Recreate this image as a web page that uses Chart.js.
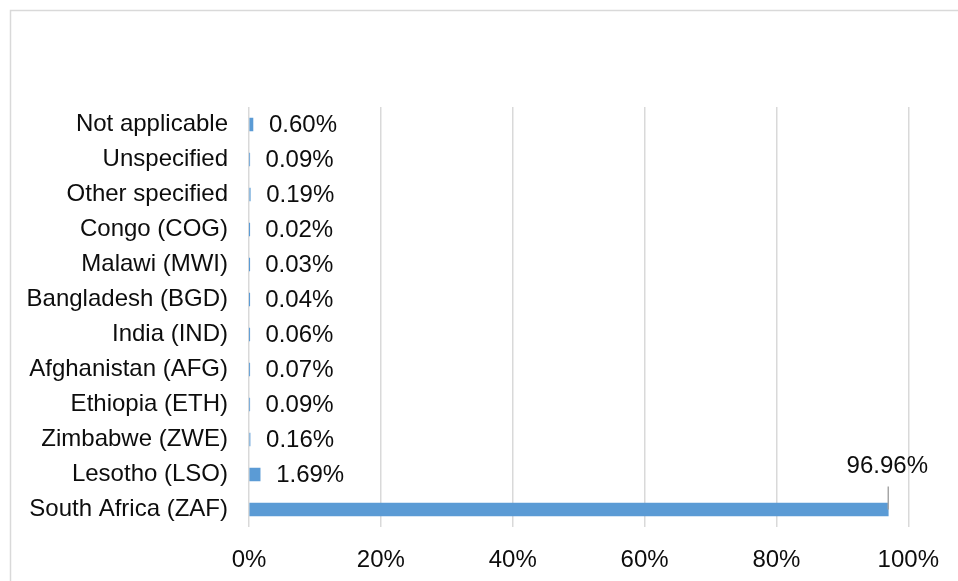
<!DOCTYPE html>
<html lang="en">
  <head>
    <meta charset="UTF-8" />
    <title>Country of birth</title>
    <script src="https://cdn.jsdelivr.net/npm/chart.js"></script>
    <style>
      html,
      body {
        margin: 0;
        background: #fff;
        font-family: "Liberation Sans", Arial, sans-serif;
      }
      #wrap {
        width: 958px;
        height: 581px;
        position: relative;
      }
    </style>
  </head>
  <body>
    <div id="wrap"><canvas id="chart"></canvas></div>
  </body>
  <script>
    const countries = [
      "Not applicable",
      "Unspecified",
      "Other specified",
      "Congo (COG)",
      "Malawi (MWI)",
      "Bangladesh (BGD)",
      "India (IND)",
      "Afghanistan (AFG)",
      "Ethiopia (ETH)",
      "Zimbabwe (ZWE)",
      "Lesotho (LSO)",
      "South Africa (ZAF)",
    ];
    const shares = [0.6, 0.09, 0.19, 0.02, 0.03, 0.04, 0.06, 0.07, 0.09, 0.16, 1.69, 96.96];
    const xTicks = [0, 20, 40, 60, 80, 100];

    const FONT = { family: "'Liberation Sans', Arial, sans-serif", size: 24 };
    const TEXT = "#0d0d0d";
    const GRID = "#d9d9d9";

    // outer frame, only top and left edges fall inside the canvas
    const framePlugin = {
      id: "frame",
      beforeDraw(chart) {
        const ctx = chart.ctx;
        ctx.save();
        ctx.strokeStyle = GRID;
        ctx.lineWidth = 1.5;
        ctx.strokeRect(10.5, 10.5, 2000, 2000);
        ctx.restore();
      },
    };

    // value labels to the right of each bar; the long bar gets a callout above it
    const valueLabels = {
      id: "valueLabels",
      afterDatasetsDraw(chart) {
        const ctx = chart.ctx;
        const meta = chart.getDatasetMeta(0);
        ctx.save();
        ctx.font = `${FONT.size}px ${FONT.family}`;
        ctx.fillStyle = TEXT;
        meta.data.forEach((bar, i) => {
          const txt = shares[i].toFixed(2) + "%";
          if (shares[i] > 50) {
            ctx.strokeStyle = "#a6a6a6";
            ctx.lineWidth = 1.5;
            ctx.beginPath();
            ctx.moveTo(bar.x, bar.y - 23);
            ctx.lineTo(bar.x, bar.y);
            ctx.stroke();
            ctx.textAlign = "center";
            ctx.textBaseline = "middle";
            ctx.fillText(txt, bar.x - 1, bar.y - 43);
          } else {
            ctx.textAlign = "left";
            ctx.textBaseline = "middle";
            ctx.fillText(txt, bar.x + 16, bar.y + 1);
          }
        });
        ctx.restore();
      },
    };

    new Chart(document.getElementById("chart"), {
      type: "bar",
      data: {
        labels: countries,
        datasets: [
          {
            data: shares,
            backgroundColor: "#5b9bd5",
            barThickness: 13,
          },
        ],
      },
      options: {
        indexAxis: "y",
        responsive: true,
        maintainAspectRatio: false,
        animation: false,
        layout: { padding: { top: 107, right: 48, bottom: 0, left: 0 } },
        plugins: { legend: { display: false }, tooltip: { enabled: false } },
        scales: {
          x: {
            min: 0,
            max: 100,
            afterFit: (s) => {
              s.height = 54;
            },
            afterBuildTicks: (s) => {
              s.ticks = xTicks.map((v) => ({ value: v }));
            },
            grid: { color: GRID, lineWidth: 1.5, drawTicks: false },
            border: { display: false },
            ticks: {
              font: FONT,
              color: TEXT,
              padding: 19,
              callback: (v) => v + "%",
            },
          },
          y: {
            afterFit: (s) => {
              s.width = 249;
            },
            grid: { display: false, drawTicks: false },
            border: { display: false },
            ticks: { font: FONT, color: TEXT, padding: 21 },
          },
        },
      },
      plugins: [framePlugin, valueLabels],
    });
  </script>
</html>
